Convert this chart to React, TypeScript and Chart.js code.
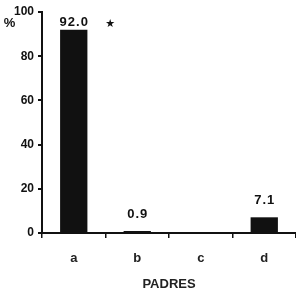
import { useEffect, useRef } from "react";
import { Chart, registerables } from "chart.js";

Chart.register(...registerables);

const categories = ["a", "b", "c", "d"];
const values = [92.0, 0.9, 0, 7.1];
const valueLabels = ["92.0", "0.9", "", "7.1"];
const yTicks = [0, 20, 40, 60, 80, 100];
const xTitle = "PADRES";
const yTitle = "%";
const marker = "★";

const FONT = "'Liberation Sans', Arial, Helvetica, sans-serif";
const INK = "#111111";

export default function App() {
  const ref = useRef<HTMLCanvasElement>(null);

  useEffect(() => {
    if (!ref.current) return;
    const labelPlugin = {
      id: "valueLabels",
      afterDatasetsDraw(chart: any) {
        const ctx = chart.ctx;
        const meta = chart.getDatasetMeta(0);
        const area = chart.chartArea;
        ctx.save();
        ctx.fillStyle = INK;
        ctx.textAlign = "center";
        ctx.textBaseline = "middle";
        ctx.font = `bold 13px ${FONT}`;
        try { (ctx as any).letterSpacing = "1px"; } catch (e) {}
        meta.data.forEach((bar: any, i: number) => {
          if (!valueLabels[i]) return;
          const y = Math.max(bar.y - 17, area.top + 10);
          ctx.fillText(valueLabels[i], bar.x + 0.5, y);
        });
        try { (ctx as any).letterSpacing = "0px"; } catch (e) {}
        const b0 = meta.data[0];
        ctx.font = `bold 11px 'DejaVu Sans', ${FONT}`;
        ctx.fillText(marker, b0.x + 36.5, area.top + 12);
        ctx.font = `bold 13px ${FONT}`;
        ctx.fillText(yTitle, 9.5, area.top + 11.5);
        ctx.restore();
      },
    };

    const chart = new Chart(ref.current, {
      type: "bar",
      data: {
        labels: categories,
        datasets: [
          {
            data: values,
            backgroundColor: INK,
            borderWidth: 0,
            barPercentage: 0.43,
            categoryPercentage: 1,
          },
        ],
      },
      options: {
        responsive: false,
        animation: false,
        layout: { padding: { top: 12, right: 0, left: 0, bottom: 0 } },
        plugins: { legend: { display: false }, tooltip: { enabled: false } },
        scales: {
          x: {
            grid: {
              display: true,
              offset: true,
              drawOnChartArea: false,
              drawTicks: true,
              tickLength: 5,
              color: INK,
              lineWidth: 1.5,
            },
            border: { display: true, color: INK, width: 2 },
            ticks: {
              font: { family: FONT, size: 13, weight: "bold" },
              color: "#222",
              padding: 13,
            },
            title: {
              display: true,
              text: xTitle,
              font: { family: FONT, size: 13, weight: "bold" },
              color: "#222",
              padding: { top: 4, bottom: 0 },
            },
            afterFit(scale: any) {
              scale.height = 59;
            },
          },
          y: {
            min: 0,
            max: 100,
            afterBuildTicks(scale: any) {
              scale.ticks = yTicks.map((v) => ({ value: v }));
            },
            ticks: {
              font: { family: FONT, size: 12, weight: "bold" },
              color: INK,
              padding: 4,
            },
            grid: {
              drawOnChartArea: false,
              drawTicks: true,
              tickLength: 4,
              color: INK,
              lineWidth: 2,
            },
            border: { display: true, color: INK, width: 2 },
            afterFit(scale: any) {
              scale.width = 42;
            },
          },
        },
      },
      plugins: [labelPlugin],
    } as any);
    return () => chart.destroy();
  }, []);

  return (
    <div style={{ position: "fixed", left: 0, top: 0, width: 296, height: 292, background: "#fff" }}>
      <canvas ref={ref} width={296} height={292} style={{ width: 296, height: 292 }} />
    </div>
  );
}
